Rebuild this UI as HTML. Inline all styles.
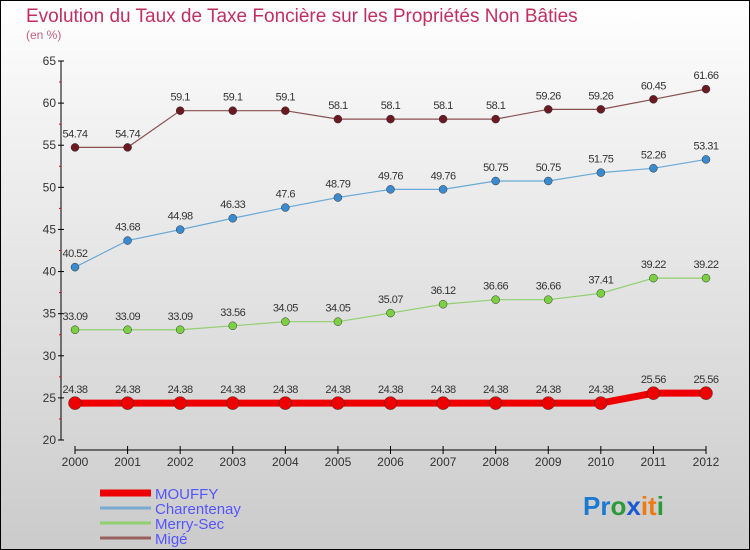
<!DOCTYPE html>
<html><head><meta charset="utf-8"><style>
body{margin:0}
#c{width:748px;height:548px;border:1px solid #000;background:linear-gradient(#fff,#f3f3f3 20%,#cbcbcb);position:relative;font-family:"Liberation Sans",sans-serif;overflow:hidden}
svg{position:absolute;left:-1px;top:-1px}
</style></head><body>
<div id="c">
<svg id="s" width="750" height="550">
<text x="26" y="22" font-size="19" fill="#c0305e">Evolution du Taux de Taxe Foncière sur les Propriétés Non Bâties</text>
<text x="26" y="39" font-size="12" fill="#c0607e">(en %)</text>
</svg>
</div>
<script>
const years=[2000,2001,2002,2003,2004,2005,2006,2007,2008,2009,2010,2011,2012];
const yTicks=[20,25,30,35,40,45,50,55,60,65];
const mouffy=[24.38,24.38,24.38,24.38,24.38,24.38,24.38,24.38,24.38,24.38,24.38,25.56,25.56];
const charentenay=[40.52,43.68,44.98,46.33,47.6,48.79,49.76,49.76,50.75,50.75,51.75,52.26,53.31];
const merry=[33.09,33.09,33.09,33.56,34.05,34.05,35.07,36.12,36.66,36.66,37.41,39.22,39.22];
const mige=[54.74,54.74,59.1,59.1,59.1,58.1,58.1,58.1,58.1,59.26,59.26,60.45,61.66];
const seriesNames=["MOUFFY","Charentenay","Merry-Sec","Migé"];
const s=document.getElementById('s'),NS='http://www.w3.org/2000/svg';
const X=i=>75+i*(631/12), Y=v=>440-(v-20)*(379/45);
function mk(t,a,p){const e=document.createElementNS(NS,t);for(const k in a)e.setAttribute(k,a[k]);(p||s).appendChild(e);return e;}
let e;
e=mk('line',{x1:61,y1:Y(65),x2:61,y2:Y(20),stroke:'#000'});


yTicks.forEach((v,i)=>{
 mk('line',{x1:58,x2:64,y1:Y(v),y2:Y(v),stroke:'#000'});
 if(i<yTicks.length-1)mk('line',{x1:59,x2:61,y1:Y(v+2.5),y2:Y(v+2.5),stroke:'#e00'});
 const t=mk('text',{x:56,y:Y(v)+4,'font-size':12,fill:'#333','text-anchor':'end'});t.textContent=v;
 
 
});
e=mk('line',{x1:75,y1:450,x2:706,y2:450,stroke:'#000'});


years.forEach((y,i)=>{
 mk('line',{x1:X(i),x2:X(i),y1:446,y2:454,stroke:'#000'});
 const t=mk('text',{x:X(i),y:466,'font-size':12,fill:'#333','text-anchor':'middle'});t.textContent=y;
 
 
});
const S=[[mige,'#6b1a22','#8a5050',1.2,4],[charentenay,'#3a8ad0','#6aaad8',1.2,4],[merry,'#7ad040','#90d070',1.2,4],[mouffy,'#e00','#e00',7,6.5]];
const nm=['mige','charentenay','merry-sec','mouffy'];
S.forEach(([d,c,lc,w,r],k)=>{
 const g=mk('g',{});
 
 
 mk('polyline',{points:d.map((v,i)=>X(i)+','+Y(v)).join(' '),fill:'none',stroke:lc,'stroke-width':w},g);
 d.forEach((v,i)=>{
  const p=mk('circle',{cx:X(i),cy:Y(v),r:r,fill:c,stroke:'#333','stroke-width':0.5},g);
  
  
  const t=mk('text',{x:X(i),y:Y(v)-10,'font-size':11,fill:'#333','text-anchor':'middle','letter-spacing':'-0.5'},g);
  t.textContent=String(v);
  
  
 });
});
const lcol=['#e00','#7aaad0','#90d070','#9a6060'],lw=[7,3,3,3];
seriesNames.forEach((n,i)=>{
 const y=493+i*15;
 const g=mk('g',{});
 
 
 mk('line',{x1:100,x2:151,y1:y,y2:y,stroke:lcol[i],'stroke-width':lw[i]},g);
 const t=mk('text',{x:155,y:y+6,'font-size':15,fill:'#55f'},g);t.textContent=n;
});
const lg=mk('text',{x:583,y:515,'font-size':26,'font-weight':'bold'});


[['Pr','#1a7ad0'],['o','#2a9a3a'],['x','#1a5ad0'],['it','#f07a10'],['i','#2a9a3a']].forEach(([t,c])=>{const ts=mk('tspan',{fill:c},lg);ts.textContent=t;});
</script>
</body></html>
